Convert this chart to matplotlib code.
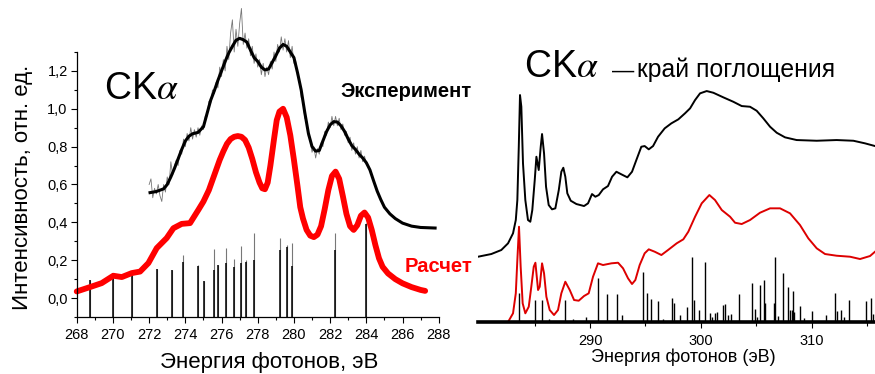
import matplotlib
matplotlib.use("Agg")
import matplotlib.pyplot as plt
from matplotlib.ticker import MultipleLocator, FixedLocator

plt.rcParams['font.family'] = ['Liberation Sans', 'DejaVu Sans']
plt.rcParams['mathtext.fontset'] = 'stix'

# --- C K-alpha emission: calculation (red) and experiment (black) ---
calc_e = [268.0, 268.73, 269.38, 270.02, 270.49, 271.04, 271.5, 271.96, 272.42, 272.97,
          273.34, 273.8, 274.26, 274.72, 275.0, 275.3, 275.6, 275.9, 276.1, 276.3,
          276.5, 276.7, 276.9, 277.1, 277.3, 277.5, 277.7, 277.9, 278.1, 278.25,
          278.4, 278.55, 278.7, 278.9, 279.05, 279.2, 279.4, 279.6, 279.8, 280.0,
          280.2, 280.35, 280.5, 280.7, 280.9, 281.1, 281.3, 281.5, 281.7, 281.9,
          282.1, 282.3, 282.5, 282.7, 282.9, 283.1, 283.3, 283.5, 283.7, 283.9,
          284.1, 284.3, 284.5, 284.7, 284.9, 285.2, 285.6, 286.0, 286.5, 287.0, 287.25]
calc_v = [0.035, 0.058, 0.079, 0.118, 0.111, 0.132, 0.14, 0.185, 0.264, 0.317,
          0.369, 0.392, 0.396, 0.466, 0.51, 0.57, 0.65, 0.73, 0.775, 0.815,
          0.84, 0.852, 0.856, 0.852, 0.835, 0.795, 0.735, 0.665, 0.61, 0.58,
          0.575, 0.61, 0.70, 0.84, 0.94, 0.985, 1.0, 0.955, 0.86, 0.73,
          0.59, 0.48, 0.42, 0.36, 0.33, 0.322, 0.335, 0.38, 0.47, 0.57,
          0.645, 0.668, 0.63, 0.54, 0.445, 0.38, 0.36, 0.385, 0.435, 0.452,
          0.425, 0.36, 0.28, 0.21, 0.165, 0.13, 0.10, 0.078, 0.058, 0.043, 0.038]

exp_e = [272.05, 272.4, 272.8, 273.0, 273.2, 273.4, 273.6, 273.8, 274.0, 274.2,
         274.4, 274.7, 275.0, 275.2, 275.4, 275.6, 275.8, 276.0, 276.2, 276.4,
         276.6, 276.8, 277.0, 277.2, 277.4, 277.6, 277.8, 278.0, 278.2, 278.4,
         278.6, 278.8, 279.0, 279.2, 279.4, 279.6, 279.8, 280.0, 280.2, 280.4,
         280.6, 280.8, 281.0, 281.2, 281.4, 281.6, 281.8, 282.0, 282.2, 282.4,
         282.6, 282.8, 283.0, 283.2, 283.4, 283.6, 283.8, 284.0, 284.2, 284.4,
         284.6, 284.8, 285.0, 285.3, 285.6, 286.0, 286.5, 287.0, 287.8]
exp_v = [0.557, 0.563, 0.577, 0.60, 0.64, 0.685, 0.735, 0.785, 0.83, 0.855,
         0.868, 0.875, 0.905, 0.975, 1.045, 1.095, 1.15, 1.20, 1.25, 1.295,
         1.33, 1.362, 1.372, 1.365, 1.352, 1.31, 1.27, 1.25, 1.22, 1.205,
         1.21, 1.245, 1.28, 1.32, 1.34, 1.33, 1.30, 1.27, 1.19, 1.10,
         0.98, 0.87, 0.80, 0.776, 0.78, 0.83, 0.879, 0.915, 0.932, 0.93,
         0.91, 0.88, 0.84, 0.805, 0.785, 0.76, 0.74, 0.715, 0.677, 0.62,
         0.565, 0.52, 0.48, 0.445, 0.42, 0.396, 0.38, 0.373, 0.37]

# raw (unsmoothed) experimental points, 0.1 eV step from 272.0 eV
raw_start, raw_step = 272.0, 0.1
raw_v = [0.60, 0.63, 0.53, 0.58, 0.55, 0.60, 0.54, 0.51, 0.60, 0.56,
         0.64, 0.60, 0.72, 0.65, 0.70, 0.73, 0.70, 0.78, 0.76, 0.84,
         0.80, 0.87, 0.83, 0.90, 0.84, 0.89, 0.85, 0.90, 0.86, 0.91,
         0.89, 0.96, 0.96, 1.04, 1.03, 1.10, 1.08, 1.14, 1.11, 1.22,
         1.17, 1.26, 1.20, 1.33, 1.26, 1.40, 1.47, 1.30, 1.42, 1.33,
         1.45, 1.53, 1.34, 1.40, 1.32, 1.37, 1.28, 1.33, 1.24, 1.29,
         1.22, 1.26, 1.18, 1.24, 1.17, 1.22, 1.18, 1.25, 1.21, 1.30,
         1.25, 1.34, 1.30, 1.38, 1.31, 1.37, 1.30, 1.36, 1.27, 1.33,
         1.24, 1.25, 1.17, 1.16, 1.06, 1.04, 0.95, 0.94, 0.85, 0.84,
         0.77, 0.80, 0.74, 0.79, 0.76, 0.82, 0.80, 0.88, 0.86, 0.93,
         0.90, 0.96, 0.91, 0.96, 0.91, 0.95, 0.89, 0.92, 0.86, 0.88,
         0.82, 0.85, 0.78, 0.82, 0.76, 0.80, 0.74, 0.78, 0.72, 0.75, 0.71]
raw_e = [raw_start + raw_step * i for i in range(len(raw_v))]

# calculated transition lines: full height and inner (black) part
line_e = [268.75, 270.0, 271.03, 272.45, 273.28, 273.85, 274.7, 275.02, 275.57, 275.78,
          276.27, 276.68, 277.1, 277.34, 277.78, 279.21, 279.62, 279.91, 282.28, 284.0]
line_h = [0.097, 0.132, 0.128, 0.153, 0.15, 0.228, 0.176, 0.088, 0.26, 0.176,
          0.265, 0.209, 0.276, 0.20, 0.346, 0.317, 0.28, 0.29, 0.345, 0.396]
line_core = [0.097, 0.132, 0.128, 0.153, 0.15, 0.188, 0.17, 0.088, 0.15, 0.176,
             0.184, 0.165, 0.184, 0.19, 0.20, 0.255, 0.27, 0.172, 0.255, 0.39]

y_ticks = [0.0, 0.2, 0.4, 0.6, 0.8, 1.0, 1.2]
y_labels = ['0,0', '0,2', '0,4', '0,6', '0,8', '1,0', '1,2']

# --- C K absorption edge: experiment (black), calculation (red), lines ---
abs_e = [279.89, 281.09, 281.99, 282.6, 283.05, 283.3, 283.44, 283.57, 283.68, 283.8,
         283.95, 284.16, 284.4, 284.61, 284.79, 285.01, 285.16, 285.37, 285.55, 285.67,
         285.85, 286.03, 286.27, 286.57, 286.87, 287.18, 287.41, 287.59, 287.77, 287.95,
         288.26, 288.77, 289.46, 289.82, 290.18, 290.48, 290.79, 291.17, 291.62, 291.99,
         292.38, 292.83, 293.37, 293.79, 294.18, 294.63, 294.93, 295.3, 295.69, 296.14,
         296.74, 297.34, 297.97, 298.57, 299.03, 299.48, 299.93, 300.53, 301.13, 302.03,
         302.93, 303.69, 304.44, 305.04, 305.64, 306.25, 306.85, 307.6, 308.65, 310.46,
         312.26, 313.77, 314.82, 315.72]
abs_v = [0.653, 0.68, 0.72, 0.787, 0.887, 1.02, 1.22, 1.753, 2.27, 2.153,
         1.587, 1.22, 1.02, 1.003, 1.12, 1.42, 1.653, 1.52, 1.753, 1.88,
         1.687, 1.353, 1.17, 1.127, 1.137, 1.32, 1.503, 1.543, 1.453, 1.287,
         1.213, 1.18, 1.16, 1.187, 1.28, 1.253, 1.27, 1.327, 1.36, 1.453,
         1.503, 1.477, 1.447, 1.503, 1.62, 1.753, 1.76, 1.727, 1.76, 1.853,
         1.937, 1.987, 2.027, 2.087, 2.137, 2.22, 2.287, 2.31, 2.293, 2.247,
         2.203, 2.16, 2.153, 2.113, 2.037, 1.953, 1.893, 1.847, 1.82, 1.813,
         1.82, 1.813, 1.787, 1.76]

abs_calc_e = [279.89, 282.6, 283.05, 283.3, 283.44, 283.59, 283.74, 283.92, 284.16, 284.47,
              284.7, 284.92, 285.07, 285.31, 285.46, 285.67, 285.85, 286.06, 286.36, 286.75,
              287.11, 287.41, 287.77, 288.17, 288.56, 288.98, 289.46, 289.88, 290.27, 290.72,
              291.17, 291.93, 292.53, 292.98, 293.43, 293.79, 294.09, 294.48, 294.93, 295.3,
              295.84, 296.44, 297.04, 297.82, 298.42, 298.87, 299.48, 300.08, 300.77, 301.28,
              301.89, 302.64, 303.09, 303.69, 304.44, 305.34, 306.25, 307.15, 308.05, 308.95,
              309.7, 310.46, 311.21, 312.26, 313.47, 314.37, 315.27, 315.72]
abs_calc_v = [0.0, 0.0, 0.087, 0.287, 0.62, 0.953, 0.553, 0.187, 0.087, 0.153,
              0.353, 0.553, 0.593, 0.32, 0.353, 0.587, 0.487, 0.253, 0.12, 0.07,
              0.12, 0.287, 0.403, 0.32, 0.22, 0.213, 0.26, 0.287, 0.453, 0.587,
              0.57, 0.587, 0.593, 0.537, 0.437, 0.38, 0.42, 0.57, 0.687, 0.727,
              0.703, 0.67, 0.72, 0.787, 0.827, 0.903, 1.053, 1.187, 1.27, 1.22,
              1.12, 1.053, 0.993, 0.98, 1.02, 1.093, 1.137, 1.137, 1.087, 0.97,
              0.837, 0.737, 0.68, 0.663, 0.653, 0.63, 0.66, 0.703]

abs_line_e = [283.6, 285.05, 285.68, 286.3, 287.73, 288.5, 289.6, 290.7, 291.57, 292.4,
              292.87, 294.82, 295.12, 295.5, 296.17, 296.6, 297.37, 297.6, 298.1, 298.75,
              299.2, 299.35, 299.8, 300.36, 300.8, 301.0, 301.25, 301.5, 302.0, 302.15,
              302.46, 302.7, 303.43, 304.63, 304.87, 305.1, 305.38, 305.74, 305.83, 306.58,
              306.73, 307.0, 307.43, 307.88, 308.09, 308.2, 308.3, 308.4, 308.96, 309.3,
              310.05, 311.26, 312.1, 312.31, 312.61, 312.9, 313.36, 314.87, 315.32, 315.56]
abs_line_h = [0.29, 0.22, 0.22, 0.03, 0.22, 0.03, 0.05, 0.44, 0.28, 0.28,
              0.07, 0.50, 0.29, 0.23, 0.21, 0.03, 0.24, 0.19, 0.07, 0.15,
              0.65, 0.22, 0.12, 0.60, 0.09, 0.05, 0.09, 0.10, 0.17, 0.18,
              0.07, 0.08, 0.28, 0.39, 0.13, 0.05, 0.37, 0.42, 0.19, 0.19,
              0.65, 0.06, 0.49, 0.35, 0.12, 0.12, 0.31, 0.10, 0.16, 0.04,
              0.11, 0.07, 0.29, 0.11, 0.12, 0.05, 0.22, 0.21, 0.24, 0.08]

fig = plt.figure(figsize=(8.75, 3.74), dpi=100)

# ---------------- left panel ----------------
ax1 = fig.add_axes([0.0877, 0.1524, 0.4137, 0.7086])
ax1.set_xlim(268, 288)
ax1.set_ylim(-0.1, 1.3)

ax1.vlines(line_e, -0.1, line_h, color='#777777', lw=0.8)
ax1.vlines(line_e, -0.1, line_core, color='black', lw=1.1)
ax1.plot(raw_e, raw_v, color='#777777', lw=0.6, clip_on=False)
ax1.plot(exp_e, exp_v, color='black', lw=2.2, clip_on=False, solid_joinstyle='round')
ax1.plot(calc_e, calc_v, color='#ff0000', lw=4.2, clip_on=False,
         solid_joinstyle='round', solid_capstyle='round')

for s in ('top', 'right'):
    ax1.spines[s].set_visible(False)
ax1.spines['left'].set_linewidth(0.9)
ax1.spines['bottom'].set_linewidth(0.9)

ax1.xaxis.set_major_locator(MultipleLocator(2))
ax1.xaxis.set_minor_locator(MultipleLocator(1))
ax1.set_yticks(y_ticks)
ax1.set_yticklabels(y_labels)
ax1.yaxis.set_minor_locator(MultipleLocator(0.1))
ax1.tick_params(which='major', direction='out', length=4, width=0.8, labelsize=10.5)
ax1.tick_params(which='minor', direction='out', length=2.2, width=0.8)
ax1.tick_params(axis='x', pad=4)
ax1.tick_params(axis='y', pad=2.5)

ax1.set_xlabel('Энергия фотонов, эВ', fontsize=16)
ax1.xaxis.set_label_coords(0.531, -0.17)
ax1.xaxis.label.set_va('center')
ax1.set_ylabel('Интенсивность, отн. ед.', fontsize=16)
ax1.yaxis.set_label_coords(-0.151, 0.49)
ax1.yaxis.label.set_va('center')

ax1.text(269.5, 1.05, r'CK$\alpha$', fontsize=27, va='baseline', ha='left')
ax1.text(282.55, 1.06, 'Эксперимент', fontsize=14.5, fontweight='bold',
         va='baseline', ha='left')
ax1.text(286.14, 0.14, 'Расчет', fontsize=14.5, fontweight='bold', color='#ff0000',
         va='baseline', ha='left')

# ---------------- right panel ----------------
ax2 = fig.add_axes([0.5463, 0.139, 0.4537, 0.802])
ax2.set_xlim(279.89, 315.72)
ax2.set_ylim(0, 3)

ax2.vlines(abs_line_e, 0, abs_line_h, color='black', lw=1.0)
ax2.plot(abs_calc_e, abs_calc_v, color='#dd0000', lw=1.4, solid_joinstyle='round')
ax2.plot(abs_e, abs_v, color='black', lw=1.4, solid_joinstyle='round')

for s in ('top', 'right', 'left'):
    ax2.spines[s].set_visible(False)
ax2.spines['bottom'].set_linewidth(2.6)
ax2.set_yticks([])
ax2.xaxis.set_major_locator(FixedLocator([290, 300, 310]))
ax2.xaxis.set_minor_locator(FixedLocator([285, 295, 305, 315]))
ax2.tick_params(which='major', direction='out', length=4.5, width=0.8, labelsize=10.5, pad=4)
ax2.tick_params(which='minor', direction='out', length=3, width=0.8)

ax2.set_xlabel('Энергия фотонов (эВ)', fontsize=13)
ax2.xaxis.set_label_coords(0.518, -0.117)
ax2.xaxis.label.set_va('center')

ax2.text(284.0, 2.45, r'CK$\alpha$', fontsize=27, va='baseline', ha='left')
ax2.text(292.0, 2.45, '—', fontsize=16, va='baseline', ha='left')
ax2.text(294.24, 2.45, 'край поглощения', fontsize=17.8, va='baseline', ha='left')

fig.savefig('out.png', dpi=100)
